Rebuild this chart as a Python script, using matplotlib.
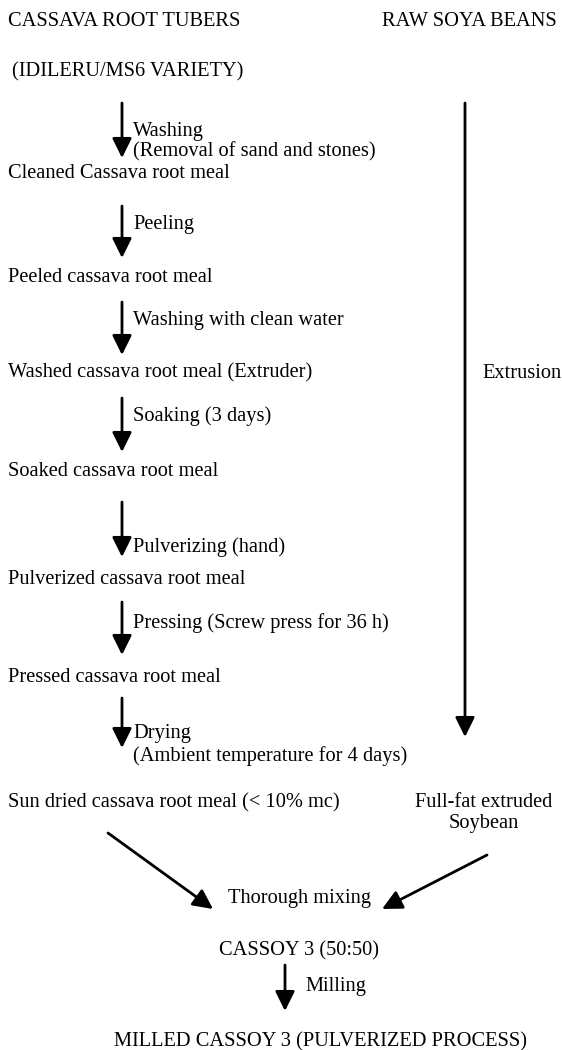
import matplotlib
matplotlib.use("Agg")
import matplotlib.pyplot as plt

# ---- content ----
left_header = ["CASSAVA ROOT TUBERS", "(IDILERU/MS6 VARIETY)"]
right_header = "RAW SOYA BEANS"
products = [
    "Cleaned Cassava root meal",
    "Peeled cassava root meal",
    "Washed cassava root meal (Extruder)",
    "Soaked cassava root meal",
    "Pulverized cassava root meal",
    "Pressed cassava root meal",
    "Sun dried cassava root meal (< 10% mc)",
]
operations = [
    "Washing\n(Removal of sand and stones)",
    "Peeling",
    "Washing with clean water",
    "Soaking (3 days)",
    "Pulverizing (hand)",
    "Pressing (Screw press for 36 h)",
    "Drying\n(Ambient temperature for 4 days)",
]
soy_operation = "Extrusion"
soy_product = "Full-fat extruded\nSoybean"
mix_step = "Thorough mixing"
blend = "CASSOY 3 (50:50)"
final_operation = "Milling"
final_product = "MILLED CASSOY 3 (PULVERIZED PROCESS)"

# ---- layout (pixel coordinates) ----
W, H = 562, 1050
product_y = [173, 277, 373, 471, 580, 678, 803]
arrow_spans = [(103, 158), (206, 258), (302, 355), (398, 452), (502, 557), (602, 655), (698, 748)]
op_y = [131, 225, 321, 416, 547, 623, 733]
arrow_x = 122
op_x = 133

FS = 14.7
font = dict(family="Liberation Serif", fontsize=FS, color="black")

fig = plt.figure(figsize=(W / 100, H / 100), dpi=100)
ax = fig.add_axes([0, 0, 1, 1])
ax.set_xlim(0, W)
ax.set_ylim(H, 0)
ax.axis("off")

arrow_kw = dict(arrowstyle="-|>,head_length=0.85,head_width=0.42", lw=2.0,
                color="black", shrinkA=0, shrinkB=0, mutation_scale=14)

ax.text(8, 22, left_header[0], ha="left", va="center", **font)
ax.text(12, 72, left_header[1], ha="left", va="center", **font)
ax.text(557, 22, right_header, ha="right", va="center", **font)

for p, yy in zip(products, product_y):
    ax.text(8, yy, p, ha="left", va="center", **font)
for i, (op, yy, (y0, y1)) in enumerate(zip(operations, op_y, arrow_spans)):
    ax.annotate("", xy=(arrow_x, y1), xytext=(arrow_x, y0), arrowprops=arrow_kw)
    if "\n" in op:
        ls = 1.08 if i == 0 else 1.18
        ax.text(op_x, yy - 9, op, ha="left", va="top", linespacing=ls, **font)
    else:
        ax.text(op_x, yy, op, ha="left", va="center", **font)

# soy column
ax.annotate("", xy=(465, 737), xytext=(465, 103), arrowprops=arrow_kw)
ax.text(482, 373, soy_operation, ha="left", va="center", **font)
ax.text(484, 803 - 10, soy_product, ha="center", va="top", linespacing=1.15, **font)

# mixing
ax.annotate("", xy=(213, 909), xytext=(108, 833), arrowprops=arrow_kw)
ax.annotate("", xy=(382, 909), xytext=(487, 855), arrowprops=arrow_kw)
ax.text(299, 899, mix_step, ha="center", va="center", **font)
ax.text(299, 951, blend, ha="center", va="center", **font)
ax.annotate("", xy=(285, 1011), xytext=(285, 965), arrowprops=arrow_kw)
ax.text(305, 986, final_operation, ha="left", va="center", **font)
ax.text(320, 1042, final_product, ha="center", va="center", **font)

fig.savefig("out.png", dpi=100)
